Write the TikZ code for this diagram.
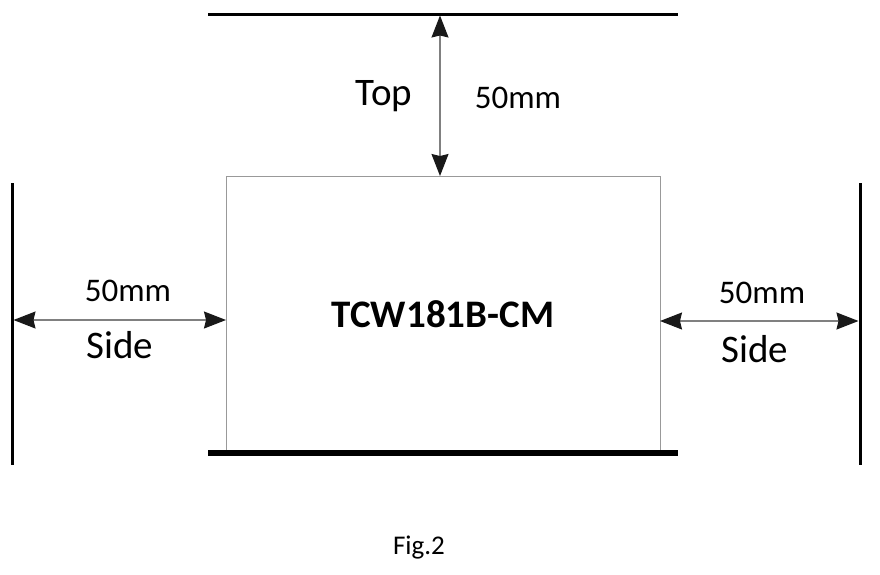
\documentclass[tikz,border=0pt]{standalone}
\usepackage{fontspec}
\setmainfont{Carlito}
\usetikzlibrary{arrows.meta}
\begin{document}
\begin{tikzpicture}[x=1pt,y=-1pt]
			\tikzstyle{wall} = [line width=3pt]
			\tikzstyle{gap} = [draw=black!50, line width=1.2pt, {Stealth[length=22pt,width=17pt,inset=2pt,color=black!90]}-{Stealth[length=22pt,width=17pt,inset=2pt,color=black!90]}]
			\tikzstyle{unit} = [draw=black!40, line width=1pt, minimum width=434pt, minimum height=276pt, inner sep=0pt, font=\fontsize{39}{44}\selectfont\bfseries]
			\tikzstyle{lbl} = [inner sep=0pt, font=\fontsize{39}{44}\selectfont]
			\tikzstyle{dim} = [inner sep=0pt, font=\fontsize{33}{38}\selectfont]
			\useasboundingbox (0,0) rectangle (880,574);
			% the unit
			\node[unit] (box) at (443,314) {TCW181B-CM};
			% walls round it
			\coordinate (top-l) at (208,14);
			\coordinate (top-r) at (678,14);
			\coordinate (floor-l) at (208,453);
			\coordinate (floor-r) at (678,453);
			\coordinate (left-t) at (12,183);
			\coordinate (left-b) at (12,465);
			\coordinate (right-t) at (860,183);
			\coordinate (right-b) at (860,465);
			\draw[wall] (top-l) -- (top-r);
			\draw[line width=6pt] (floor-l) -- (floor-r);
			\draw[wall] (left-t) -- (left-b);
			\draw[wall] (right-t) -- (right-b);
			% clearances
			\coordinate (top-a) at (440,15.5);
			\coordinate (top-b) at (440,176);
			\coordinate (left-a) at (13.5,320);
			\coordinate (left-c) at (226,320);
			\coordinate (right-a) at (660,321);
			\coordinate (right-c) at (858.5,321);
			\draw[gap] (top-a) -- (top-b);
			\draw[gap] (left-a) -- (left-c);
			\draw[gap] (right-a) -- (right-c);
			\node[lbl] (top-txt) at (384,96) {Top};
			\node[dim] (top-dim) at (518,98) {50mm};
			\node[dim] (left-dim) at (128,291) {50mm};
			\node[lbl] (left-txt) at (120,345) {Side};
			\node[dim] (right-dim) at (762,293) {50mm};
			\node[lbl] (right-txt) at (755,349) {Side};
			\node[inner sep=0pt, font=\fontsize{27}{32}\selectfont] (fig) at (419,548) {Fig.2};
\end{tikzpicture}
\end{document}
